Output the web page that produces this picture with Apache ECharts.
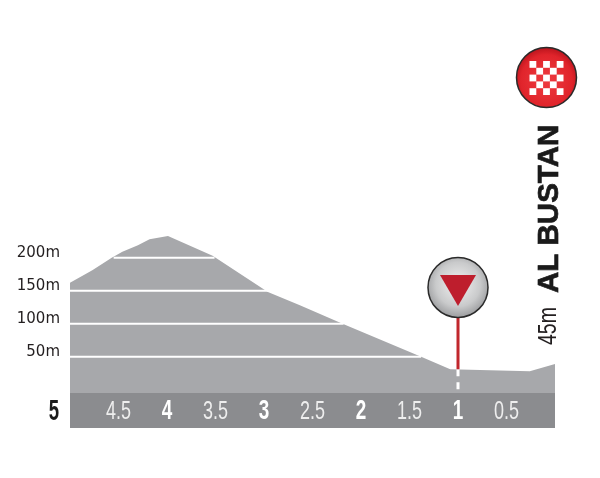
<!DOCTYPE html>
<html><head><meta charset="utf-8">
<style>html,body{margin:0;padding:0;background:#fff}#c{width:600px;height:478px}</style>
<script src="https://cdn.jsdelivr.net/npm/echarts@6/dist/echarts.min.js"></script>
</head><body><div id="c"></div>
<script>
const profileKm = [5,4.77,4.57,4.46,4.3,4.18,3.99,3.53,2.96,2.63,2.19,1.38,1.08,0.26,0];
const profileElevation = [162,181,200,209,219,228,233,203,148,128,100,50,31,28,39];
const elevationTicks = [50,100,150,200];
const contourEndKm = [[5,1.38],[5,2.18],[5,2.93],[4.55,3.51]];
const kmTicks = [0.5,1,1.5,2,2.5,3,3.5,4,4.5,5];
const kmLabels = ['0.5','1','1.5','2','2.5','3','3.5','4','4.5','5'];
const markerKm = 1;
const markerElevation = 155;
const roadTop = 31;
const bandTop = -5;
const axisBottom = -58;
const finishName = 'AL BUSTAN';
const finishHeight = '45m';

const chart = echarts.init(document.getElementById('c'));
const checker = [];
const cell = 6.8, cx0 = 529.5, cy0 = 61;
for (let r=0;r<5;r++) for (let c=0;c<5;c++) if ((r+c)%2===0)
  checker.push({type:'rect',z:20,shape:{x:cx0+c*cell,y:cy0+r*cell,width:cell,height:cell},style:{fill:'#fff'}});

const contourSeries = elevationTicks.map((h,i)=>({
  type:'line',silent:true,symbol:'none',z:4,
  data:[[contourEndKm[i][0],h],[contourEndKm[i][1],h]],
  lineStyle:{color:'#fff',width:2}
}));

chart.setOption({
  animation:false,
  grid:{left:70,width:485,top:32,height:396},
  xAxis:{type:'value',inverse:true,min:0,max:5,interval:0.5,
    axisLine:{show:false},axisTick:{show:false},splitLine:{show:false},
    axisLabel:{show:false}
  },
  yAxis:{type:'value',min:axisBottom,max:542,
    axisLine:{show:false},axisTick:{show:false},splitLine:{show:false},
    axisLabel:{customValues:elevationTicks,margin:10,fontFamily:'DejaVu Sans',fontSize:15,color:'#231f20',
      verticalAlign:'bottom',lineHeight:10,
      formatter:v=>v+'m'}
  },
  series:[
    {type:'line',silent:true,symbol:'none',z:2,
     data:profileKm.map((k,i)=>[k,profileElevation[i]]),
     lineStyle:{width:0},areaStyle:{color:'#a7a8ab',origin:'start',opacity:1}},
    {type:'line',silent:true,symbol:'none',z:3,
     data:[[0,bandTop],[5,bandTop]],
     lineStyle:{width:0},areaStyle:{color:'#8b8c8f',origin:'start',opacity:1}},
    ...contourSeries,
    {type:'line',silent:true,symbol:'none',z:5,
     data:[[markerKm,roadTop],[markerKm,bandTop]],
     lineStyle:{color:'#fff',width:3,type:[7,6]}},
    {type:'line',silent:true,symbol:'none',z:5,
     data:[[markerKm,markerElevation],[markerKm,roadTop]],
     lineStyle:{color:'#c1272d',width:3}},
    {type:'scatter',silent:true,z:6,symbol:'circle',symbolSize:60,
     data:[[markerKm,markerElevation]],
     itemStyle:{opacity:1,borderColor:'#2a2a2a',borderWidth:1.5,
       color:{type:'radial',x:0.5,y:0.45,r:0.6,colorStops:[
         {offset:0,color:'#f2f2f2'},{offset:0.6,color:'#c9cacb'},{offset:0.85,color:'#a3a4a6'},{offset:1,color:'#e4e4e4'}]}}},
    {type:'scatter',silent:true,z:7,symbol:'triangle',symbolRotate:180,symbolSize:[36,31],symbolOffset:[0,3],
     data:[[markerKm,markerElevation]],
     itemStyle:{opacity:1,color:'#be1e2d'}},
    {type:'custom',silent:true,z:8,clip:false,
     data:kmTicks.map((k,i)=>[k,kmLabels[i]]),
     encode:{x:0},
     renderItem:(params,api)=>{
       const k=api.value(0), label=kmLabels[params.dataIndex];
       const p=api.coord([k,axisBottom]);
       const major=Number.isInteger(k), end=k===5;
       return {type:'text',x:end?p[0]-16:p[0],y:p[1]-16,scaleX:end?0.62:(major?0.7:0.72),
         style:{text:label,textAlign:'center',textVerticalAlign:'middle',
           font:(end?'bold 30px':major?'bold 27px':'25px')+' "Liberation Sans"',
           fill:end?'#1a1a1a':(major?'#fff':'#eeeeee')}};
     }}
  ],
  graphic:[
    {type:'circle',z:19,shape:{cx:546.5,cy:77.5,r:30},
     style:{stroke:'#2a2a2a',lineWidth:1.5,
       fill:{type:'radial',x:0.5,y:0.55,r:0.6,colorStops:[
         {offset:0,color:'#ef3b40'},{offset:0.7,color:'#e0242b'},{offset:0.92,color:'#b5121b'},{offset:1,color:'#e8656a'}]}}},
    ...checker,
    {type:'text',z:20,x:565,y:293,rotation:Math.PI/2,
     style:{text:finishName,font:'bold 29.5px "Liberation Sans"',fill:'#1a1a1a',stroke:'#1a1a1a',lineWidth:0.7,textAlign:'left',textVerticalAlign:'bottom'}},
    {type:'text',z:20,x:562,y:345,rotation:Math.PI/2,scaleX:0.78,
     style:{text:finishHeight,font:'25px "Liberation Sans"',fill:'#231f20',textAlign:'left',textVerticalAlign:'bottom'}}
  ]
});
</script></body></html>
